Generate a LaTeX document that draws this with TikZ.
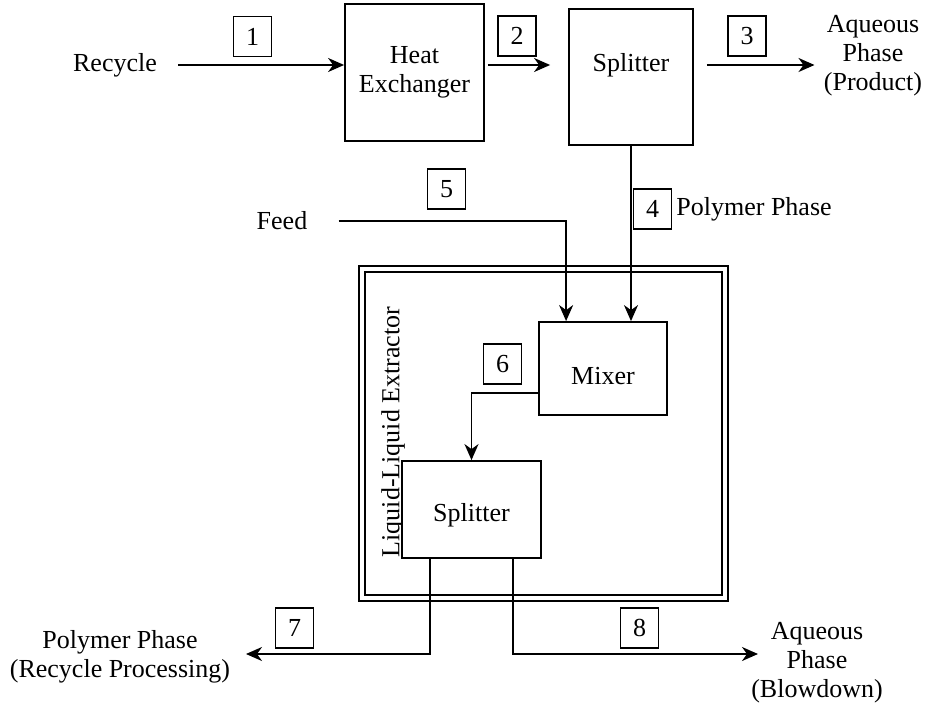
\documentclass[tikz,border=0pt]{standalone}
\usepackage{fontspec}
\setmainfont{Liberation Serif}
\usetikzlibrary{arrows.meta}
\usetikzlibrary{calc}

\tikzset{
	unit/.style={draw, line width=0.9pt, inner sep=0pt},
	numbox/.style={draw, line width=0.8pt, minimum width=19pt, minimum height=20pt, inner sep=0pt},
	flow/.style={line width=0.9pt, -{Stealth[length=8pt,width=7pt,inset=2.5pt]}},
	txt/.style={inner sep=0pt, align=center}
}
\newcommand{\streamno}[3] % number, x in px, y in px
{
	\node[numbox] (s#1) at (#2,#3) {#1};
}

\begin{document}
\begin{tikzpicture}[x=0.5pt, y=-0.5pt, font=\fontsize{13}{14.5}\selectfont]
	\useasboundingbox (0,0) rectangle (926,711);
	% extractor frame (double line)
	\node[draw, double, line width=0.9pt, double distance=2.1pt, minimum width=181.5pt, minimum height=164.5pt, inner sep=0pt] (lle) at (543.5,433.5) {};
	\node[txt, rotate=90] (lletxt) at (393,432) {Liquid-Liquid Extractor};
	
	% units
	\node[unit, minimum width=69.5pt, minimum height=68.5pt, align=center] (hx) at (414.5,72.5) {Heat\\Exchanger};
	\node[unit, minimum width=62pt, minimum height=68pt, label={[yshift=6pt]center:Splitter}] (sp1) at (631,77) {};
	\node[unit, fill=white, minimum width=64pt, minimum height=46.5pt, label={[yshift=-4pt]center:Mixer}] (mix) at (603,368.5) {};
	\node[unit, fill=white, minimum width=69.5pt, minimum height=48.5pt, label={[yshift=-3pt]center:Splitter}] (sp2) at (471.5,509.5) {};
	
	% stream ends
	\node[txt] (rec) at (115,65) {Recycle};
	\node[txt] (feed) at (282,221) {Feed};
	\node[txt] (prod) at (873,56) {Aqueous\\Phase\\(Product)};
	\node[txt, anchor=west] (poly) at (676,209) {Polymer Phase};
	\node[txt] (rcp) at (120,657) {Polymer Phase\\(Recycle Processing)};
	\node[txt] (blow) at (817,663) {Aqueous\\Phase\\(Blowdown)};
	\coordinate (e7) at (246,654);
	\coordinate (e8) at (758,654);
	
	% stream numbers
	\streamno{1}{252.5}{36.5}
	\streamno{2}{517}{36}
	\streamno{3}{747}{36}
	\streamno{4}{652.5}{209}
	\streamno{5}{446.5}{189}
	\streamno{6}{502.5}{364}
	\streamno{7}{294.5}{628}
	\streamno{8}{639.5}{628}
	
	% streams
	\draw[flow, shorten <=10.5pt] (rec.east) -- (rec.east -| hx.west);
	\draw[flow, shorten <=1.5pt, shorten >=9pt] (rec -| hx.east) -- (rec -| sp1.west);
	\draw[flow, shorten <=6.5pt, shorten >=4.5pt] (rec -| sp1.east) -- (rec -| prod.west);
	\draw[flow, shorten <=15.5pt] (feed.east) -| ([xshift=14pt]mix.north west);
	\draw[flow] (sp1.south) -- (sp1.south |- mix.north);
	\draw[flow] ([yshift=-12.25pt]mix.west) -| (sp2.north);
	\draw[flow] ([xshift=14.5pt]sp2.south west) |- (e7);
	\draw[flow] ([xshift=-14.5pt]sp2.south east) |- (e8);
\end{tikzpicture}
\end{document}
